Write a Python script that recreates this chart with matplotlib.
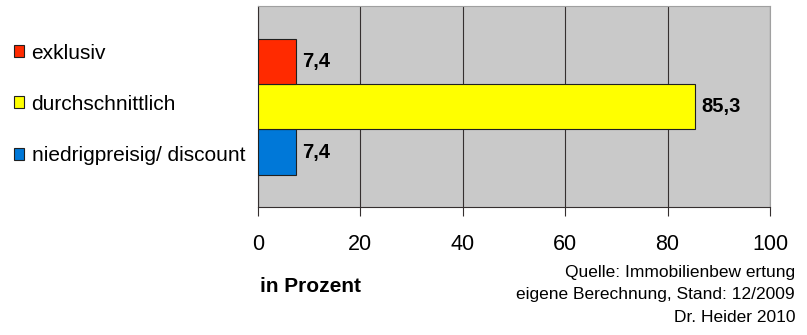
import numpy as np
import matplotlib.pyplot as plt
from matplotlib.patches import Patch

# Data
categories = ["niedrigpreisig/ discount", "durchschnittlich", "exklusiv"]
values = [7.4, 85.3, 7.4]
value_labels = ["7,4", "85,3", "7,4"]
colors = ["#0078D8", "#FFFF00", "#FF2A00"]
xticks = [0, 20, 40, 60, 80, 100]

fig = plt.figure(figsize=(8.07, 3.35), dpi=100)
ax = fig.add_axes([258 / 807, 1 - 207 / 335, 512 / 807, 201 / 335])
ax.set_facecolor("#C9C9C9")

y = np.arange(len(categories))
ax.barh(y, values, height=1.0, color=colors, edgecolor="#202020", linewidth=0.8, zorder=3)

for yi, v, lab in zip(y, values, value_labels):
    ax.text(v + 1.2, yi, lab, va="center", ha="left", fontsize=14.5,
            fontweight="bold", family="Liberation Sans", zorder=4)

ax.set_xlim(0, 100)
ax.set_ylim(-1.22, 3.24)
ax.set_xticks(xticks)
ax.set_xticklabels([str(t) for t in xticks], fontsize=15.5, family="Liberation Sans")
ax.set_yticks([])
ax.xaxis.grid(True, color="#352f2f", linewidth=0.8, zorder=1)
ax.tick_params(axis="x", direction="out", length=6.5, width=0.8, colors="#352f2f",
               labelcolor="black", pad=13)
for s in ["top", "right"]:
    ax.spines[s].set_color("#A0A0A0")
for s in ["left", "bottom"]:
    ax.spines[s].set_color("#352f2f")

# Legend on the left, top to bottom
handles = [Patch(facecolor=c, edgecolor="#202020", linewidth=0.8) for c in colors[::-1]]
fig.legend(handles, categories[::-1], loc="upper left", bbox_to_anchor=(-0.006, 0.926),
           frameon=False, handlelength=0.5, handleheight=0.5, handletextpad=0.35,
           labelspacing=1.55, prop={"family": "Liberation Sans", "size": 15})

fig.text(310 / 807, 1 - 286 / 335, "in Prozent", ha="center", va="center",
         fontsize=15, fontweight="bold", family="Liberation Sans")
source = ["Quelle: Immobilienbew ertung", "eigene Berechnung, Stand: 12/2009", "Dr. Heider 2010"]
for i, line in enumerate(source):
    fig.text(795 / 807, 1 - (272 + 23 * i) / 335, line, ha="right", va="center",
             fontsize=12.5, family="Liberation Sans")

fig.savefig("out.png", dpi=100)
